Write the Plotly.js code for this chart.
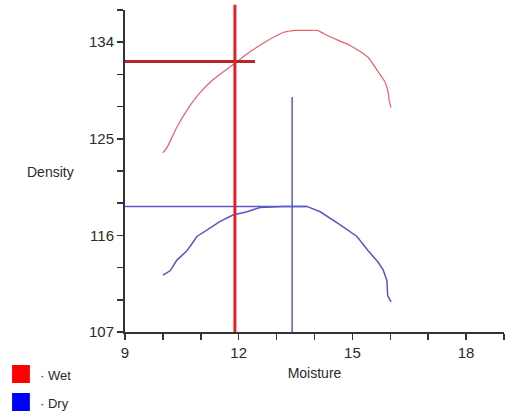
<!DOCTYPE html>
<html>
<head>
<meta charset="utf-8">
<script src="https://cdn.plot.ly/plotly-3.0.1.min.js"></script>
<style>html,body{margin:0;padding:0;background:#fff;}#chart{width:507px;height:412px;}</style>
</head>
<body>
<div id="chart"></div>
<script>
// Wet density curve
const wetMoisture = [10.00, 10.11, 10.37, 10.64, 10.98, 11.32, 11.85, 12.30, 12.69, 13.17, 13.49, 13.88, 14.07, 14.41, 14.94, 15.41, 15.65, 15.86, 15.94, 15.97, 16.02];
const wetDensity  = [123.7, 124.2, 126.1, 127.7, 129.3, 130.5, 131.9, 133.1, 134.0, 134.9, 135.1, 135.1, 135.1, 134.5, 133.7, 132.6, 131.4, 130.3, 129.4, 128.6, 127.9];
// Dry density curve
const dryMoisture = [10.00, 10.19, 10.37, 10.64, 10.90, 11.16, 11.51, 11.85, 12.22, 12.56, 13.17, 13.80, 14.15, 14.67, 15.12, 15.41, 15.68, 15.81, 15.91, 15.93, 16.02];
const dryDensity  = [112.3, 112.7, 113.7, 114.6, 115.9, 116.5, 117.3, 117.9, 118.2, 118.6, 118.7, 118.7, 118.2, 117.0, 115.9, 114.6, 113.5, 112.8, 111.8, 110.4, 109.8];
// Optimum marker lines
const wetOptMoisture = 11.9;
const wetOptDensity = 132.2;
const wetHLineX = [9, 12.43];
const dryOptMoisture = 13.41;
const dryOptDensity = 118.7;
const dryHLineX = [9, 13.8];
const dryVLineY = [107, 128.9];
// Axis ticks
const xTickVals = [9, 10, 11, 12, 13, 14, 15, 16, 17, 18, 19];
const xTickText = ['9', '', '', '12', '', '', '15', '', '', '18', ''];
const yTickVals = [107, 110, 113, 116, 119, 122, 125, 128, 131, 134, 137];
const yTickText = ['107', '', '', '116', '', '', '125', '', '', '134', ''];
const legendLabels = ['· Wet', '· Dry'];

const font = 'Arial, "Liberation Sans", sans-serif';
const traces = [
  {x: wetMoisture, y: wetDensity, mode: 'lines', line: {color: '#e8606a', width: 1.2, shape: 'spline', smoothing: 0.6}, hoverinfo: 'skip'},
  {x: dryMoisture, y: dryDensity, mode: 'lines', line: {color: '#5555c8', width: 1.5}, hoverinfo: 'skip'},
  {x: wetHLineX, y: [wetOptDensity, wetOptDensity], mode: 'lines', line: {color: '#b8262c', width: 3}, hoverinfo: 'skip'},
  {x: dryHLineX, y: [dryOptDensity, dryOptDensity], mode: 'lines', line: {color: '#5a5ac8', width: 1.5}, hoverinfo: 'skip'},
  {x: [dryOptMoisture, dryOptMoisture], y: dryVLineY, mode: 'lines', line: {color: '#5a5ac8', width: 1.5}, hoverinfo: 'skip'}
];

const layout = {
  width: 507, height: 412,
  margin: {l: 125, r: 3, t: 10, b: 80},
  paper_bgcolor: '#fff', plot_bgcolor: '#fff',
  showlegend: false,
  font: {family: font, size: 15, color: '#2a2a2a'},
  xaxis: {
    range: [9, 19], tickvals: xTickVals, ticktext: xTickText,
    showgrid: false, zeroline: false, showline: true, linecolor: '#333', linewidth: 2,
    ticks: 'outside', ticklen: 6, tickwidth: 1.5, tickcolor: '#333',
    tickfont: {family: font, size: 15, color: '#2a2a2a'},
    title: {text: 'Moisture', font: {family: font, size: 14, color: '#2a2a2a'}, standoff: 8}
  },
  yaxis: {
    range: [107, 137], tickvals: yTickVals, ticktext: yTickText,
    showgrid: false, zeroline: false, showline: true, linecolor: '#333', linewidth: 2,
    ticks: 'outside', ticklen: 6, tickwidth: 1.5, tickcolor: '#333',
    tickfont: {family: font, size: 15, color: '#2a2a2a'}
  },
  shapes: [
    {type: 'line', xref: 'x', yref: 'paper', x0: wetOptMoisture, x1: wetOptMoisture, y0: 0, y1: 1.016,
     line: {color: '#e0202a', width: 3}, layer: 'above'},
    {type: 'rect', xref: 'paper', yref: 'paper', x0: -0.298, x1: -0.251, y0: -0.1025, y1: -0.1584,
     fillcolor: '#ff0000', line: {width: 0}},
    {type: 'rect', xref: 'paper', yref: 'paper', x0: -0.298, x1: -0.251, y0: -0.1894, y1: -0.2453,
     fillcolor: '#0000ff', line: {width: 0}}
  ],
  annotations: [
    {text: 'Density', xref: 'paper', yref: 'paper', x: (50 - 125) / 379, y: (332 - 172) / 322,
     xanchor: 'center', yanchor: 'middle', showarrow: false, font: {family: font, size: 14, color: '#2a2a2a'}},
    {text: legendLabels[0], xref: 'paper', yref: 'paper', x: (38 - 125) / 379, y: (332 - 375) / 322,
     xanchor: 'left', yanchor: 'middle', showarrow: false, font: {family: font, size: 13, color: '#2a2a2a'}},
    {text: legendLabels[1], xref: 'paper', yref: 'paper', x: (38 - 125) / 379, y: (332 - 403) / 322,
     xanchor: 'left', yanchor: 'middle', showarrow: false, font: {family: font, size: 13, color: '#2a2a2a'}}
  ]
};

Plotly.newPlot('chart', traces, layout, {staticPlot: true, displayModeBar: false});
</script>
</body>
</html>
